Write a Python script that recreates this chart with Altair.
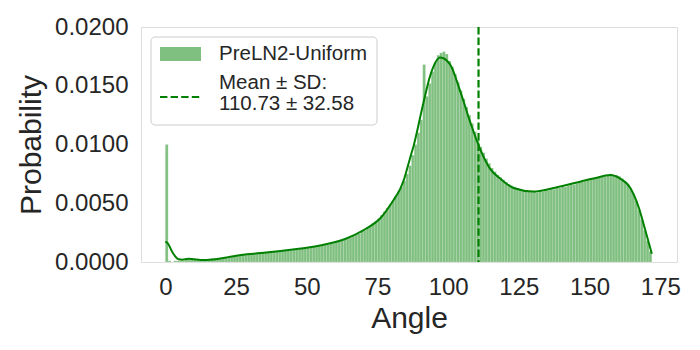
import altair as alt
import pandas as pd

# ---- data ----
BIN_WIDTH = 1.0
# probability per 1-degree bin, bins starting at 0,1,...,171
probs = [
    0.0100, 0.0001, 0.0000, 0.0001, 0.0001, 0.0001, 0.0001, 0.0002, 0.0002, 0.0002,
    0.0002, 0.0002, 0.0002, 0.0002, 0.0002, 0.0002, 0.0003, 0.0003, 0.0003, 0.0003,
    0.0004, 0.0004, 0.0004, 0.0005, 0.0005, 0.0005, 0.0006, 0.0006, 0.0006, 0.0007,
    0.0007, 0.0007, 0.0007, 0.0008, 0.0008, 0.0008, 0.0008, 0.0009, 0.0009, 0.0009,
    0.0009, 0.0010, 0.0010, 0.0010, 0.0010, 0.0011, 0.0011, 0.0011, 0.0012, 0.0012,
    0.0012, 0.0013, 0.0013, 0.0013, 0.0014, 0.0014, 0.0015, 0.0015, 0.0016, 0.0016,
    0.0017, 0.0018, 0.0018, 0.0019, 0.0020, 0.0021, 0.0022, 0.0023, 0.0024, 0.0026,
    0.0027, 0.0029, 0.0031, 0.0033, 0.0035, 0.0037, 0.0040, 0.0043, 0.0046, 0.0049,
    0.0052, 0.0056, 0.0060, 0.0064, 0.0069, 0.0075, 0.0082, 0.0091, 0.0100, 0.0110,
    0.0121, 0.0168, 0.0141, 0.0152, 0.0162, 0.0170, 0.0176, 0.0178, 0.0179, 0.0177,
    0.0171, 0.0166, 0.0160, 0.0153, 0.0146, 0.0139, 0.0132, 0.0125, 0.0118, 0.0111,
    0.0104, 0.0098, 0.0093, 0.0088, 0.0084, 0.0080, 0.0077, 0.0074, 0.0072, 0.0070,
    0.0068, 0.0066, 0.0065, 0.0064, 0.0063, 0.0062, 0.0061, 0.0061, 0.0060, 0.0060,
    0.0060, 0.0059, 0.0060, 0.0060, 0.0061, 0.0061, 0.0062, 0.0062, 0.0063, 0.0063,
    0.0064, 0.0064, 0.0065, 0.0066, 0.0066, 0.0067, 0.0068, 0.0068, 0.0069, 0.0070,
    0.0070, 0.0071, 0.0072, 0.0072, 0.0073, 0.0073, 0.0074, 0.0075, 0.0074, 0.0074,
    0.0073, 0.0071, 0.0069, 0.0066, 0.0063, 0.0058, 0.0052, 0.0044, 0.0036, 0.0027,
    0.0018, 0.0009,
]
bin_start = [i * BIN_WIDTH for i in range(len(probs))]

# KDE curve
kde_angle = [0, 1, 2.4, 4.7, 6, 8.2, 10, 13.5, 18.3, 23, 28.9, 34.8, 40.7, 46.5,
             52.4, 58.3, 64.2, 70.1, 76, 80.7, 83, 84.2, 86.6, 87.8, 91.3, 93.7,
             97.2, 100.7, 104.3, 107.8, 111.3, 114.9, 118.4, 123.1, 130.2, 137.3,
             144.3, 151.4, 157.3, 160.8, 164.4, 167.3, 169.7, 172.0]
kde_value = [0.00173, 0.00155, 0.00088, 0.00023, 0.00020, 0.00028, 0.00024, 0.00017,
             0.00026, 0.00045, 0.00065, 0.00079, 0.00094, 0.00111, 0.00130, 0.00159,
             0.00202, 0.00272, 0.00372, 0.00528, 0.00620, 0.00690, 0.00890, 0.00990,
             0.01360, 0.01590, 0.01740, 0.01680, 0.01450, 0.01190, 0.00960, 0.00790,
             0.00710, 0.00630, 0.00600, 0.00630, 0.00670, 0.00710, 0.00740, 0.00710,
             0.00630, 0.00470, 0.00270, 0.00070]

MEAN = 110.73
SD = 32.58
SERIES = "PreLN2-Uniform"
x_ticks = [0, 25, 50, 75, 100, 125, 150, 175]
y_ticks = [0.0, 0.005, 0.010, 0.015, 0.020]

GREEN = "#008000"
FONT = "Liberation Sans"
TXT = "#262626"

hist_df = pd.DataFrame({
    "start": bin_start,
    "end": [s + BIN_WIDTH for s in bin_start],
    "prob": probs,
})
kde_df = pd.DataFrame({"angle": kde_angle, "value": kde_value})
mean_df = pd.DataFrame({"mean": [MEAN]})
one = pd.DataFrame({"k": [0]})

xscale = alt.Scale(domain=[-8.6, 180.9], nice=False, zero=False)
yscale = alt.Scale(domain=[0, 0.02], nice=False)

xaxis = alt.Axis(title="Angle", values=x_ticks, format="d", grid=False, domain=False,
                 ticks=False, labelPadding=13, labelFontSize=24, titleFontSize=30,
                 titlePadding=4, labelColor=TXT, titleColor=TXT, labelFont=FONT,
                 titleFont=FONT, titleFontWeight="normal", labelFlush=False)
yaxis = alt.Axis(title="Probability", values=y_ticks, format=".4f", grid=False,
                 domain=False, ticks=False, labelPadding=13, labelFontSize=24,
                 titleFontSize=30, titlePadding=8, labelColor=TXT, titleColor=TXT,
                 labelFont=FONT, titleFont=FONT, titleFontWeight="normal",
                 labelFlush=False)

bars = alt.Chart(hist_df).mark_rect(
    fill=GREEN, fillOpacity=0.5, stroke="white", strokeOpacity=0.35, strokeWidth=0.5
).encode(
    x=alt.X("start:Q", scale=xscale, axis=xaxis),
    x2="end:Q",
    y=alt.Y("prob:Q", scale=yscale, axis=yaxis),
    y2=alt.datum(0),
)

kde = alt.Chart(kde_df).mark_line(color=GREEN, strokeWidth=2, interpolate="monotone").encode(
    x=alt.X("angle:Q", scale=xscale),
    y=alt.Y("value:Q", scale=yscale),
)

mean_rule = alt.Chart(mean_df).mark_rule(
    color=GREEN, strokeWidth=2.2, strokeDash=[7.4, 3.2]
).encode(
    x=alt.X("mean:Q", scale=xscale),
    y=alt.value(0), y2=alt.value(235),
)

# legend (drawn as decoration)
leg_box = alt.Chart(one).mark_rect(
    fill="white", fillOpacity=0.8, stroke="#cccccc", strokeWidth=1, cornerRadius=4
).encode(x=alt.value(10), x2=alt.value(236), y=alt.value(10), y2=alt.value(98))
leg_patch = alt.Chart(one).mark_rect(fill=GREEN, fillOpacity=0.5).encode(
    x=alt.value(19), x2=alt.value(60), y=alt.value(20), y2=alt.value(34))
leg_dash = alt.Chart(one).mark_rule(color=GREEN, strokeWidth=2.2, strokeDash=[7.4, 3.2]).encode(
    x=alt.value(19), x2=alt.value(60), y=alt.value(70))
leg_t1 = alt.Chart(one).mark_text(
    text=SERIES, align="left", baseline="middle", fontSize=20.5, font=FONT, color=TXT
).encode(x=alt.value(78), y=alt.value(27))
leg_t2 = alt.Chart(one).mark_text(
    text="Mean ± SD:", align="left", baseline="middle",
    fontSize=20.5, font=FONT, color=TXT
).encode(x=alt.value(78), y=alt.value(55.5))
leg_t3 = alt.Chart(one).mark_text(
    text=f"{MEAN:.2f} ± {SD:.2f}", align="left", baseline="middle",
    fontSize=20.5, font=FONT, color=TXT
).encode(x=alt.value(78), y=alt.value(76.5))

chart = alt.layer(bars, kde, mean_rule, leg_box, leg_patch, leg_dash,
                  leg_t1, leg_t2, leg_t3).properties(
    width=536, height=235,
    autosize=alt.AutoSizeParams(type="none"),
    padding={"left": 133, "top": 19, "right": 15, "bottom": 80},
).configure_view(
    stroke=TXT, strokeWidth=1.25
).configure(background="white")

chart.save("out.html", embed_options={"renderer": "svg", "actions": False})
